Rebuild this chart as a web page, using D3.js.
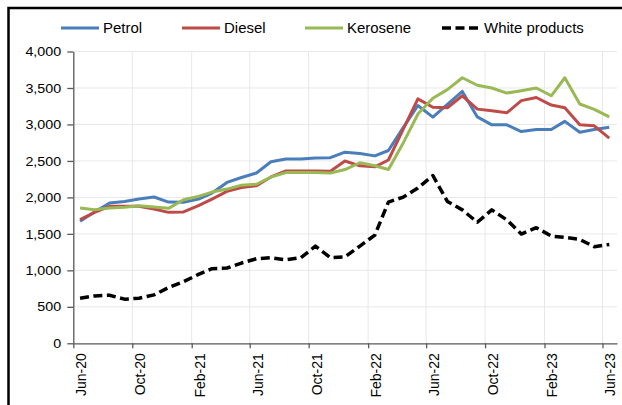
<!DOCTYPE html>
<html>
<head>
<meta charset="utf-8">
<script src="https://cdn.jsdelivr.net/npm/d3@7"></script>
<style>
  html, body { margin: 0; background: #fff; overflow: hidden; }
  svg { display: block; font-family: Arial, "Liberation Sans", sans-serif; overflow: hidden; }
  .grid line { stroke: #e8e8e8; stroke-width: 1; }
  .axis path, .axis line { stroke: #595959; stroke-width: 1.3; }
  .axis text { fill: #000; }
</style>
</head>
<body>
<svg id="chart"></svg>
<script>
// monthly observations, Jun-20 .. Jun-23
const months = [
  '2020-06','2020-07','2020-08','2020-09','2020-10','2020-11','2020-12',
  '2021-01','2021-02','2021-03','2021-04','2021-05','2021-06','2021-07',
  '2021-08','2021-09','2021-10','2021-11','2021-12','2022-01','2022-02',
  '2022-03','2022-04','2022-05','2022-06','2022-07','2022-08','2022-09',
  '2022-10','2022-11','2022-12','2023-01','2023-02','2023-03','2023-04',
  '2023-05','2023-06'
];

const petrol   = [1673,1800,1923,1945,1977,2005,1936,1932,1977,2059,2205,2273,2335,2489,2527,2527,2540,2545,2620,2601,2569,2643,2960,3260,3100,3276,3453,3103,2995,2995,2902,2930,2930,3042,2893,2930,2963];
const diesel   = [1695,1795,1877,1877,1877,1841,1795,1800,1886,1977,2082,2136,2160,2280,2363,2363,2363,2359,2499,2433,2419,2513,2940,3350,3235,3229,3393,3210,3187,3159,3327,3369,3266,3229,2995,2981,2813];
const kerosene = [1855,1832,1855,1864,1886,1868,1850,1968,2014,2073,2114,2168,2180,2280,2340,2340,2340,2335,2382,2475,2433,2382,2750,3142,3360,3477,3640,3537,3500,3430,3463,3500,3393,3640,3280,3206,3103];
const white    = [618,650,659,605,618,664,764,845,945,1023,1032,1100,1159,1173,1145,1173,1332,1175,1184,1332,1484,1935,2005,2129,2300,1945,1829,1659,1829,1691,1498,1585,1470,1452,1424,1323,1355];

const seriesNames = ['Petrol', 'Diesel', 'Kerosene', 'White products'];
const yTicks = [0, 500, 1000, 1500, 2000, 2500, 3000, 3500, 4000];
const xTickMonths = ['2020-06','2020-10','2021-02','2021-06','2021-10','2022-02','2022-06','2022-10','2023-02','2023-06'];

const W = 622, H = 405;
const P = {l: 73.3, r: 617, t: 51.5, b: 343.3};

const parseMonth = d3.timeParse('%Y-%m');
const dates = months.map(m => d3.timeDay.offset(parseMonth(m), 14));   // points sit mid-month

const x = d3.scaleTime()
  .domain([parseMonth('2020-06'), parseMonth('2023-07')])
  .range([P.l, P.r]);

const y = d3.scaleLinear()
  .domain([0, 4000])
  .range([P.b, P.t]);

const svg = d3.select('#chart').attr('width', W).attr('height', H);

// outer frame (runs off the right and bottom edges)
svg.append('path')
  .attr('d', `M8.5,${H + 10}V8H${W + 10}`)
  .attr('fill', 'none').attr('stroke', '#000').attr('stroke-width', 2.5);

// gridlines
const grid = svg.append('g').attr('class', 'grid');
grid.selectAll('line.h').data(yTicks.slice(1)).join('line')
  .attr('class', 'h')
  .attr('x1', P.l).attr('x2', P.r)
  .attr('y1', d => y(d)).attr('y2', d => y(d));
grid.selectAll('line.v').data(xTickMonths.slice(1).map(parseMonth)).join('line')
  .attr('class', 'v')
  .attr('x1', d => x(d)).attr('x2', d => x(d))
  .attr('y1', P.t).attr('y2', P.b);

// axes
svg.append('g')
  .attr('class', 'axis')
  .attr('transform', `translate(${P.l},0)`)
  .call(d3.axisLeft(y).tickValues(yTicks).tickFormat(d3.format(',')).tickSize(6).tickSizeOuter(0))
  .call(g => g.selectAll('text')
    .attr('x', -11)
    .attr('transform', 'scale(1.1,1)')
    .style('font-size', '13px'));

svg.append('g')
  .attr('class', 'axis')
  .attr('transform', `translate(0,${P.b})`)
  .call(d3.axisBottom(x).tickValues(xTickMonths.map(parseMonth))
    .tickFormat(d3.timeFormat('%b-%y')).tickSize(5).tickSizeOuter(0))
  .call(g => g.selectAll('text')
    .attr('x', 0).attr('y', 0).attr('dy', '0.35em')
    .attr('text-anchor', 'end')
    .attr('transform', 'translate(7,10) scale(1.1,1) rotate(-90)')
    .style('font-size', '14px'));

// series
const series = [
  {name: seriesNames[0], values: petrol,   color: '#4A7EBB', width: 3,   dash: null},
  {name: seriesNames[1], values: diesel,   color: '#BE4B48', width: 3,   dash: null},
  {name: seriesNames[2], values: kerosene, color: '#98B954', width: 3,   dash: null},
  {name: seriesNames[3], values: white,    color: '#000000', width: 3.5, dash: '9,4.5'}
];

const line = d3.line()
  .x((d, i) => x(dates[i]))
  .y(d => y(d));

svg.append('g').selectAll('path')
  .data(series)
  .join('path')
    .attr('d', d => line(d.values))
    .attr('fill', 'none')
    .attr('stroke', d => d.color)
    .attr('stroke-width', d => d.width)
    .attr('stroke-dasharray', d => d.dash)
    .attr('stroke-linejoin', 'round');

// legend
const legendX = [61, 182, 305, 442];
const lg = svg.append('g').selectAll('g')
  .data(series)
  .join('g')
    .attr('transform', (d, i) => `translate(${legendX[i]},28)`);
lg.append('line')
  .attr('x1', 0).attr('x2', 38)
  .attr('stroke', d => d.color)
  .attr('stroke-width', d => d.width)
  .attr('stroke-dasharray', d => d.dash);
lg.append('text')
  .attr('transform', 'translate(42,5) scale(1.07,1)')
  .style('font-size', '14px')
  .text(d => d.name);
</script>
</body>
</html>
